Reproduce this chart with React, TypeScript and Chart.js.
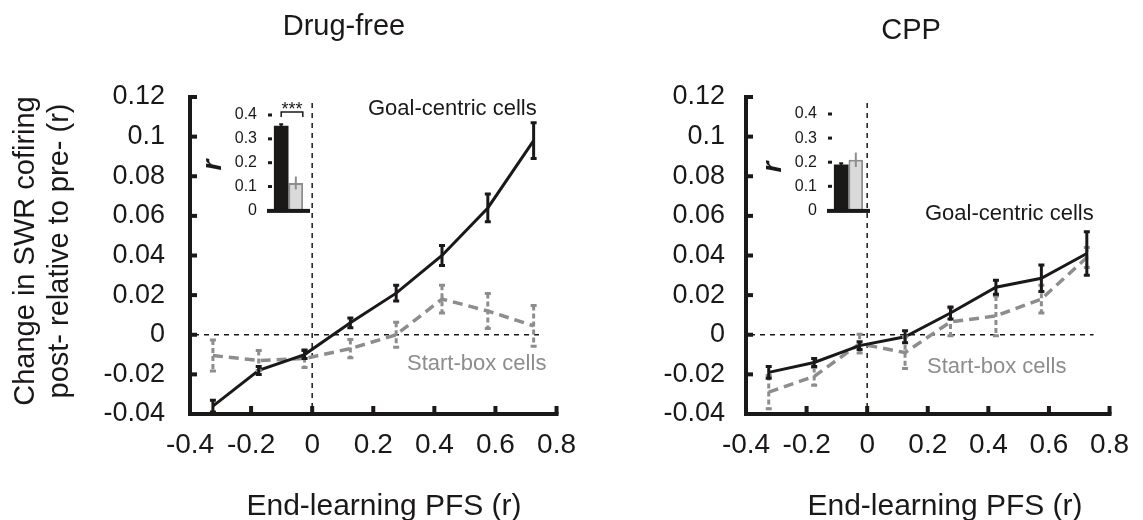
import React, { useEffect, useRef } from 'react';
import { Chart, registerables } from 'chart.js';

Chart.register(...registerables);

const FONT = '"Liberation Sans", Arial, Helvetica, sans-serif';
const BLACK = '#1b1818';
const GRAY = '#8d8d8d';
const LIGHT = '#dadada';

// ---------- data ----------
const binCenters = [-0.325, -0.175, -0.025, 0.125, 0.275, 0.425, 0.575, 0.725];

const drugFreeGoal = [-0.036, -0.018, -0.010, 0.006, 0.021, 0.040, 0.064, 0.098];
const drugFreeGoalErr = [0.003, 0.002, 0.002, 0.0025, 0.004, 0.005, 0.007, 0.009];
const drugFreeStart = [-0.0105, -0.013, -0.012, -0.007, 0.0, 0.018, 0.012, 0.0045];
const drugFreeStartErr = [0.0078, 0.005, 0.0045, 0.0046, 0.0063, 0.007, 0.0088, 0.0103];

const cppGoal = [-0.019, -0.014, -0.0055, -0.001, 0.011, 0.024, 0.0285, 0.041];
const cppGoalErr = [0.003, 0.002, 0.002, 0.003, 0.003, 0.0035, 0.0067, 0.011];
const cppStart = [-0.029, -0.021, -0.0045, -0.009, 0.0065, 0.0095, 0.018, 0.039];
const cppStartErr = [0.0084, 0.0045, 0.0047, 0.008, 0.007, 0.01, 0.007, 0.005];

const xTickValues = [-0.4, -0.2, 0, 0.2, 0.4, 0.6, 0.8];
const xTickLabels = ['-0.4', '-0.2', '0', '0.2', '0.4', '0.6', '0.8'];
const yTickValues = [-0.04, -0.02, 0, 0.02, 0.04, 0.06, 0.08, 0.1, 0.12];
const yTickLabels = ['-0.04', '-0.02', '0', '0.02', '0.04', '0.06', '0.08', '0.1', '0.12'];

const insetTickValues = [0, 0.1, 0.2, 0.3, 0.4];
const insetTickLabels = ['0', '0.1', '0.2', '0.3', '0.4'];
const drugFreeInset = [0.355, 0.115];
const drugFreeInsetErr = [0.006, 0.027];
const cppInset = [0.19, 0.21];
const cppInsetErr = [0.006, 0.03];

// ---------- layout ----------
const PANELS = [
  {
    key: 'df', title: 'Drug-free', canvasLeft: 0, canvasWidth: 590, yAxisWidth: 190, padRight: 25, yTickPad: 25,
    titlePos: [344, 27], goalLabelPos: [368, 109], startLabelPos: [407, 364], xTitlePos: [384, 507], showYTitle: true,
    goal: drugFreeGoal, goalErr: drugFreeGoalErr, start: drugFreeStart, startErr: drugFreeStartErr,
  },
  {
    key: 'cpp', title: 'CPP', canvasLeft: 590, canvasWidth: 553, yAxisWidth: 156, padRight: 21, yTickPad: 21,
    titlePos: [911, 31], goalLabelPos: [925, 214], startLabelPos: [927, 367], xTitlePos: [945, 507], showYTitle: false,
    goal: cppGoal, goalErr: cppGoalErr, start: cppStart, startErr: cppStartErr,
  },
];

const INSETS = [
  { key: 'dfi', left: 200, top: 90, padTop: 25, padBottom: 11, values: drugFreeInset, errs: drugFreeInsetErr, sig: true, rPos: [13, 75] },
  { key: 'cppi', left: 760, top: 90, padTop: 24, padBottom: 12, values: cppInset, errs: cppInsetErr, sig: false, rPos: [13, 77] },
];

function toPoints(ys: number[]) {
  return binCenters.map((x, i) => ({ x, y: ys[i] }));
}

function drawErrorBar(ctx: CanvasRenderingContext2D, x: number, yTop: number, yBot: number, cap: number, color: string, width: number, dash: number[]) {
  ctx.save();
  ctx.strokeStyle = color;
  ctx.lineWidth = width;
  ctx.setLineDash(dash);
  ctx.beginPath();
  ctx.moveTo(x, yTop);
  ctx.lineTo(x, yBot);
  ctx.stroke();
  ctx.setLineDash([]);
  if (cap > 0) {
    ctx.beginPath();
    ctx.moveTo(x - cap, yTop);
    ctx.lineTo(x + cap, yTop);
    ctx.moveTo(x - cap, yBot);
    ctx.lineTo(x + cap, yBot);
    ctx.stroke();
  }
  ctx.restore();
}

function MainChart({ p }: { p: any }) {
  const ref = useRef<HTMLCanvasElement>(null);
  useEffect(() => {
    const canvas = ref.current!;
    const ox = p.canvasLeft;
    const decor = {
      id: 'decor_' + p.key,
      beforeDatasetsDraw(chart: any) {
        const { ctx, chartArea, scales } = chart;
        const x0 = scales.x.getPixelForValue(0);
        const y0 = scales.y.getPixelForValue(0);
        ctx.save();
        ctx.strokeStyle = BLACK;
        ctx.lineWidth = 1.5;
        ctx.setLineDash([5, 5]);
        ctx.beginPath();
        ctx.moveTo(chartArea.left + 4, y0);
        ctx.lineTo(chartArea.right - 16, y0);
        ctx.moveTo(x0, chartArea.top + 6);
        ctx.lineTo(x0, chartArea.bottom - 4);
        ctx.stroke();
        ctx.restore();
      },
      afterDatasetsDraw(chart: any) {
        const { ctx, scales } = chart;
        for (let i = chart.data.datasets.length - 1; i >= 0; i--) {
          const ds: any = chart.data.datasets[i];
          const meta = chart.getDatasetMeta(i);
          ds.data.forEach((pt: any, j: number) => {
            const e = ds.errors[j];
            const px = meta.data[j].x;
            drawErrorBar(ctx, px, scales.y.getPixelForValue(pt.y + e), scales.y.getPixelForValue(pt.y - e), 3, ds.errColor, 3, ds.errDash);
          });
        }
      },
      afterDraw(chart: any) {
        const { ctx, chartArea, scales } = chart;
        const { left, right, top, bottom } = chartArea;
        ctx.save();
        ctx.fillStyle = BLACK;
        ctx.fillRect(left - 2, top - 2, 4, bottom - top + 4);
        ctx.fillRect(left - 2, bottom - 2, right - left + 4, 4);
        yTickValues.forEach((v) => {
          const py = scales.y.getPixelForValue(v);
          ctx.fillRect(left, py - 2, 7, 4);
        });
        xTickValues.forEach((v) => {
          const px = scales.x.getPixelForValue(v);
          ctx.fillRect(px - 2, bottom - 8, 4, 8);
        });
        // texts
        ctx.textBaseline = 'middle';
        ctx.fillStyle = BLACK;
        ctx.textAlign = 'center';
        ctx.font = `29px ${FONT}`;
        ctx.fillText(p.title, p.titlePos[0] - ox, p.titlePos[1]);
        ctx.font = `30px ${FONT}`;
        ctx.fillText('End-learning PFS (r)', p.xTitlePos[0] - ox, p.xTitlePos[1]);
        ctx.textAlign = 'left';
        ctx.font = `22px ${FONT}`;
        ctx.fillText('Goal-centric cells', p.goalLabelPos[0] - ox, p.goalLabelPos[1]);
        ctx.fillStyle = GRAY;
        ctx.fillText('Start-box cells', p.startLabelPos[0] - ox, p.startLabelPos[1]);
        if (p.showYTitle) {
          ctx.fillStyle = BLACK;
          ctx.font = `29px ${FONT}`;
          ctx.textAlign = 'center';
          const lines = [['Change in SWR cofiring', 26], ['post- relative to pre- (r)', 60]];
          lines.forEach(([t, cx]) => {
            ctx.save();
            ctx.translate((cx as number) - ox, 251);
            ctx.rotate(-Math.PI / 2);
            ctx.fillText(t as string, 0, 0);
            ctx.restore();
          });
        }
        ctx.restore();
      },
    };
    const chart = new Chart(canvas, {
      type: 'line',
      data: {
        datasets: [
          {
            label: 'Goal-centric cells', data: toPoints(p.goal), borderColor: BLACK, borderWidth: 3, pointRadius: 0, tension: 0,
            errors: p.goalErr, errColor: BLACK, errDash: [],
          } as any,
          {
            label: 'Start-box cells', data: toPoints(p.start), borderColor: GRAY, borderWidth: 3.5, borderDash: [10, 6], pointRadius: 0, tension: 0,
            errors: p.startErr, errColor: GRAY, errDash: [5, 3],
          } as any,
        ],
      },
      options: {
        responsive: false,
        animation: false,
        devicePixelRatio: 1,
        events: [],
        layout: { autoPadding: false, padding: { left: 0, top: 97, right: p.padRight, bottom: 0 } } as any,
        plugins: { legend: { display: false }, tooltip: { enabled: false } },
        scales: {
          x: {
            type: 'linear', min: -0.4, max: 0.8,
            afterBuildTicks: (s: any) => { s.ticks = xTickValues.map((v) => ({ value: v })); },
            afterFit: (s: any) => { s.height = 106; },
            ticks: { callback: (_v: any, i: number) => xTickLabels[i], color: BLACK, font: { family: FONT, size: 28 }, padding: 14, maxRotation: 0, autoSkip: false },
            grid: { display: false, drawTicks: false },
            border: { display: false },
          },
          y: {
            type: 'linear', min: -0.04, max: 0.12,
            afterBuildTicks: (s: any) => { s.ticks = yTickValues.map((v) => ({ value: v })); },
            afterFit: (s: any) => { s.width = p.yAxisWidth; },
            ticks: { callback: (_v: any, i: number) => yTickLabels[i], color: BLACK, font: { family: FONT, size: 27 }, padding: p.yTickPad, autoSkip: false },
            grid: { display: false, drawTicks: false },
            border: { display: false },
          },
        },
      } as any,
      plugins: [decor],
    });
    return () => chart.destroy();
  }, []);
  return (
    <canvas
      ref={ref}
      width={p.canvasWidth}
      height={520}
      style={{ position: 'absolute', left: p.canvasLeft, top: 0, width: p.canvasWidth, height: 520 }}
    />
  );
}

function InsetChart({ q }: { q: any }) {
  const ref = useRef<HTMLCanvasElement>(null);
  useEffect(() => {
    const canvas = ref.current!;
    const decor = {
      id: 'inset_' + q.key,
      afterDatasetsDraw(chart: any) {
        const { ctx, scales } = chart;
        chart.data.datasets.forEach((ds: any, i: number) => {
          const meta = chart.getDatasetMeta(i);
          const bar = meta.data[0];
          const v = ds.data[0];
          const e = ds.errors[0];
          drawErrorBar(ctx, bar.x, scales.y.getPixelForValue(v + e), scales.y.getPixelForValue(v - e), i === 0 ? 2 : 0, ds.errColor, 2, []);
        });
      },
      afterDraw(chart: any) {
        const { ctx, chartArea, scales } = chart;
        const { left, right, bottom } = chartArea;
        ctx.save();
        ctx.fillStyle = BLACK;
        ctx.fillRect(left, bottom - 1.5, right - left, 4);
        insetTickValues.forEach((v) => {
          if (v === 0) return;
          const py = scales.y.getPixelForValue(v);
          ctx.fillRect(left + 1, py - 1.5, 4, 3);
        });
        // r label
        ctx.save();
        ctx.translate(q.rPos[0], q.rPos[1]);
        ctx.rotate(-Math.PI / 2);
        ctx.font = `italic bold 28px ${FONT}`;
        ctx.textAlign = 'center';
        ctx.textBaseline = 'middle';
        ctx.fillText('r', 0, 0);
        ctx.restore();
        if (q.sig) {
          const m0 = chart.getDatasetMeta(0).data[0];
          const m1 = chart.getDatasetMeta(1).data[0];
          const xa = m0.x;
          const xb = m1.x + 7;
          const yb = 22;
          ctx.strokeStyle = BLACK;
          ctx.lineWidth = 1.5;
          ctx.beginPath();
          ctx.moveTo(xa, yb + 5);
          ctx.lineTo(xa, yb);
          ctx.lineTo(xb, yb);
          ctx.lineTo(xb, yb + 5);
          ctx.stroke();
          ctx.font = `18px ${FONT}`;
          ctx.textAlign = 'center';
          ctx.textBaseline = 'alphabetic';
          ctx.fillText('***', (xa + xb) / 2, yb + 3);
        }
        ctx.restore();
      },
    };
    const chart = new Chart(canvas, {
      type: 'bar',
      data: {
        labels: ['r'],
        datasets: [
          { label: 'Goal-centric', data: [q.values[0]], backgroundColor: BLACK, borderWidth: 0, errors: [q.errs[0]], errColor: BLACK } as any,
          { label: 'Start-box', data: [q.values[1]], backgroundColor: LIGHT, borderColor: GRAY, borderWidth: 2, errors: [q.errs[1]], errColor: GRAY } as any,
        ],
      },
      options: {
        responsive: false,
        animation: false,
        devicePixelRatio: 1,
        events: [],
        layout: { autoPadding: false, padding: { left: 0, top: q.padTop, right: 10, bottom: q.padBottom } } as any,
        plugins: { legend: { display: false }, tooltip: { enabled: false } },
        datasets: { bar: { categoryPercentage: 0.68, barPercentage: 1.0 } },
        scales: {
          x: { display: false },
          y: {
            type: 'linear', min: 0, max: 0.4,
            afterBuildTicks: (s: any) => { s.ticks = insetTickValues.map((v) => ({ value: v })); },
            afterFit: (s: any) => { s.width = 67; },
            ticks: { callback: (_v: any, i: number) => insetTickLabels[i], color: BLACK, font: { family: FONT, size: 16 }, padding: 10, autoSkip: false },
            grid: { display: false, drawTicks: false },
            border: { display: false },
          },
        },
      } as any,
      plugins: [decor],
    });
    return () => chart.destroy();
  }, []);
  return (
    <canvas
      ref={ref}
      width={120}
      height={140}
      style={{ position: 'absolute', left: q.left, top: q.top, width: 120, height: 140 }}
    />
  );
}

export default function App() {
  return (
    <div style={{ position: 'absolute', left: 0, top: 0, width: 1143, height: 520, background: '#ffffff', overflow: 'hidden' }}>
      {PANELS.map((p) => (
        <MainChart key={p.key} p={p} />
      ))}
      {INSETS.map((q) => (
        <InsetChart key={q.key} q={q} />
      ))}
    </div>
  );
}
